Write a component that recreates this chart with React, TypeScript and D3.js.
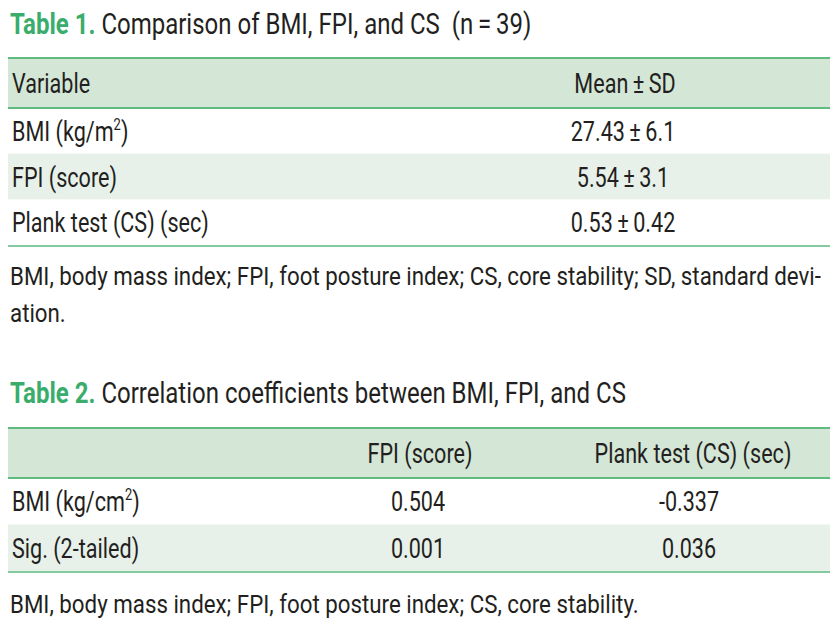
import React from "react";
import * as d3 from "d3";

const table1Title = ["Table 1.", " Comparison of BMI, FPI, and CS  (n\u2009=\u200939)"];
const table1Header = ["Variable", "Mean\u2009\u00b1\u2009SD"];
const table1Vars = [["BMI (kg/m", "2", ")"], ["FPI (score)", "", ""], ["Plank test (CS) (sec)", "", ""]];
const table1Values = ["27.43\u2009\u00b1\u20096.1", "5.54\u2009\u00b1\u20093.1", "0.53\u2009\u00b1\u20090.42"];
const table1Notes = ["BMI, body mass index; FPI, foot posture index; CS, core stability; SD, standard devi-", "ation."];

const table2Title = ["Table 2.", " Correlation coefficients between BMI, FPI, and CS"];
const table2Header = ["", "FPI (score)", "Plank test (CS) (sec)"];
const table2Vars = [["BMI (kg/cm", "2", ")"], ["Sig. (2-tailed)", "", ""]];
const table2FPI = ["0.504", "0.001"];
const table2Plank = ["-0.337", "0.036"];
const table2Notes = ["BMI, body mass index; FPI, foot posture index; CS, core stability."];

const FONT = "Roboto, 'Noto Sans', sans-serif";
const TXT = "#231f20";
const GREEN = "#3aad6c";
const HEAD_BG = "#d4e6d6";
const ALT_BG = "#e7f1e9";
const LINE = "#5fbb80";
const LINE_LIGHT = "#86cba0";

const L = 8, R = 830;
const FS = 27.5;
const TITLE_FS = 30;
const NOTE_FS = 25.5;
const SX_ROW = 0.785;
const SX_TITLE = 0.80;
const SX_NOTE = 0.875;

function T({ x, y, size = FS, sx = SX_ROW, anchor = "start", children }: any) {
  return (
    <text
      transform={`translate(${x},${y}) scale(${sx},1)`}
      textAnchor={anchor}
      fontSize={size}
      fill={TXT}
      fontFamily={FONT}
      style={{ whiteSpace: "pre" }}
    >
      {children}
    </text>
  );
}

function Label({ parts, x, y, size = FS }: any) {
  return (
    <T x={x} y={y} size={size}>
      {parts[0]}
      {parts[1] ? <tspan fontSize={size * 0.6} dy={-size * 0.4}>{parts[1]}</tspan> : null}
      {parts[2] ? <tspan dy={parts[1] ? size * 0.4 : 0}>{parts[2]}</tspan> : null}
    </T>
  );
}

export default function App() {
  const y1 = d3.scaleBand<number>().domain(d3.range(table1Vars.length)).range([108, 245]);
  const y2 = d3.scaleBand<number>().domain(d3.range(table2Vars.length)).range([478, 571]);
  const off = 10;
  return (
    <svg width={838} height={628} style={{ position: "absolute", left: 0, top: 0, background: "#fff" }}>
      {/* Table 1 */}
      <T x={10} y={34} size={TITLE_FS} sx={SX_TITLE}>
        <tspan fill={GREEN} fontWeight="bold">{table1Title[0]}</tspan>
        <tspan>{table1Title[1]}</tspan>
      </T>
      <rect x={L} y={58} width={R - L} height={50} fill={HEAD_BG} />
      <line x1={L} x2={R} y1={58} y2={58} stroke={LINE} strokeWidth={2} />
      <line x1={L} x2={R} y1={108} y2={108} stroke={LINE} strokeWidth={2} />
      <T x={12} y={93}>{table1Header[0]}</T>
      <T x={625} y={93} anchor="middle">{table1Header[1]}</T>
      {table1Vars.map((v, i) => (
        <g key={i}>
          {i % 2 === 1 ? <rect x={L} y={y1(i)!} width={R - L} height={y1.bandwidth()} fill={ALT_BG} /> : null}
          <Label parts={v} x={12} y={y1(i)! + y1.bandwidth() / 2 + off} />
          <T x={623} y={y1(i)! + y1.bandwidth() / 2 + off} anchor="middle">{table1Values[i]}</T>
        </g>
      ))}
      <line x1={L} x2={R} y1={246} y2={246} stroke={LINE_LIGHT} strokeWidth={2} />
      {table1Notes.map((n, i) => (
        <T key={i} x={10} y={285 + i * 37} size={NOTE_FS} sx={SX_NOTE}>{n}</T>
      ))}

      {/* Table 2 */}
      <T x={10} y={403} size={TITLE_FS} sx={SX_TITLE}>
        <tspan fill={GREEN} fontWeight="bold">{table2Title[0]}</tspan>
        <tspan>{table2Title[1]}</tspan>
      </T>
      <rect x={L} y={428} width={R - L} height={50} fill={HEAD_BG} />
      <line x1={L} x2={R} y1={428} y2={428} stroke={LINE} strokeWidth={2} />
      <line x1={L} x2={R} y1={478} y2={478} stroke={LINE} strokeWidth={2} />
      <T x={420} y={463} anchor="middle">{table2Header[1]}</T>
      <T x={693} y={463} anchor="middle">{table2Header[2]}</T>
      {table2Vars.map((v, i) => (
        <g key={i}>
          {i % 2 === 1 ? <rect x={L} y={y2(i)!} width={R - L} height={y2.bandwidth()} fill={ALT_BG} /> : null}
          <Label parts={v} x={12} y={y2(i)! + y2.bandwidth() / 2 + off} />
          <T x={418} y={y2(i)! + y2.bandwidth() / 2 + off} anchor="middle">{table2FPI[i]}</T>
          <T x={689} y={y2(i)! + y2.bandwidth() / 2 + off} anchor="middle">{table2Plank[i]}</T>
        </g>
      ))}
      <line x1={L} x2={R} y1={572} y2={572} stroke={LINE_LIGHT} strokeWidth={2} />
      {table2Notes.map((n, i) => (
        <T key={i} x={10} y={613 + i * 37} size={NOTE_FS} sx={SX_NOTE}>{n}</T>
      ))}
    </svg>
  );
}
